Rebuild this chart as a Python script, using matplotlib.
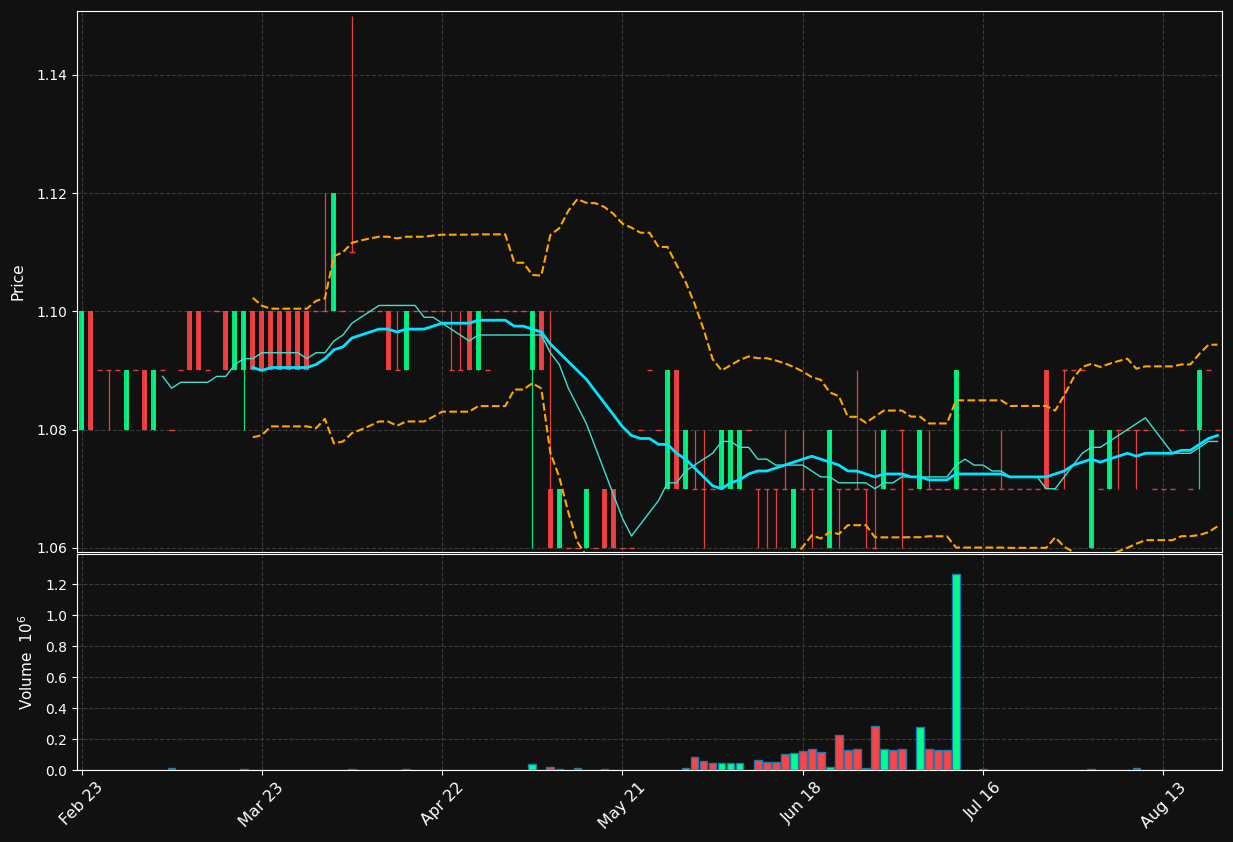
import numpy as np
import pandas as pd
import matplotlib
matplotlib.use('Agg')
import matplotlib.pyplot as plt

# daily OHLC (quotes are rounded to 0.01)
opens = [1.08, 1.10, 1.09, 1.09, 1.09, 1.08, 1.09, 1.09, 1.08, 1.09,
         1.08, 1.09, 1.10, 1.10, 1.09, 1.10, 1.10, 1.09, 1.09, 1.10,
         1.10, 1.10, 1.10, 1.10, 1.10, 1.10, 1.10, 1.10, 1.10, 1.10,
         1.11, 1.10, 1.10, 1.10, 1.10, 1.09, 1.09, 1.10, 1.10, 1.10,
         1.10, 1.09, 1.09, 1.10, 1.09, 1.09, 1.10, 1.10, 1.10, 1.10,
         1.09, 1.10, 1.07, 1.06, 1.06, 1.06, 1.06, 1.06, 1.07, 1.07,
         1.06, 1.06, 1.08, 1.09, 1.08, 1.07, 1.09, 1.07, 1.07, 1.07,
         1.07, 1.07, 1.07, 1.07, 1.08, 1.07, 1.07, 1.07, 1.07, 1.06,
         1.07, 1.07, 1.07, 1.06, 1.07, 1.07, 1.07, 1.07, 1.06, 1.07,
         1.07, 1.08, 1.07, 1.07, 1.07, 1.07, 1.07, 1.07, 1.07, 1.07,
         1.07, 1.07, 1.07, 1.07, 1.07, 1.07, 1.07, 1.09, 1.07, 1.09,
         1.09, 1.09, 1.06, 1.07, 1.07, 1.08, 1.08, 1.08, 1.08, 1.07,
         1.07, 1.07, 1.08, 1.07, 1.08, 1.09, 1.08]
highs = [1.10, 1.10, 1.09, 1.09, 1.09, 1.09, 1.09, 1.09, 1.09, 1.09,
         1.08, 1.09, 1.10, 1.10, 1.09, 1.10, 1.10, 1.10, 1.10, 1.10,
         1.10, 1.10, 1.10, 1.10, 1.10, 1.10, 1.10, 1.12, 1.12, 1.10,
         1.15, 1.10, 1.10, 1.10, 1.10, 1.10, 1.10, 1.10, 1.10, 1.10,
         1.10, 1.10, 1.10, 1.10, 1.10, 1.09, 1.10, 1.10, 1.10, 1.10,
         1.10, 1.10, 1.10, 1.07, 1.06, 1.06, 1.07, 1.06, 1.07, 1.07,
         1.06, 1.06, 1.08, 1.09, 1.08, 1.09, 1.09, 1.08, 1.08, 1.08,
         1.07, 1.08, 1.08, 1.08, 1.08, 1.07, 1.07, 1.07, 1.08, 1.07,
         1.08, 1.07, 1.07, 1.08, 1.07, 1.07, 1.09, 1.07, 1.08, 1.08,
         1.07, 1.08, 1.07, 1.08, 1.08, 1.07, 1.07, 1.09, 1.07, 1.07,
         1.07, 1.07, 1.08, 1.07, 1.07, 1.07, 1.07, 1.09, 1.07, 1.09,
         1.09, 1.09, 1.08, 1.07, 1.08, 1.08, 1.08, 1.08, 1.08, 1.07,
         1.07, 1.07, 1.08, 1.07, 1.09, 1.09, 1.08]
lows = [1.08, 1.08, 1.09, 1.08, 1.09, 1.08, 1.09, 1.08, 1.08, 1.09,
        1.08, 1.09, 1.09, 1.09, 1.09, 1.10, 1.09, 1.09, 1.08, 1.09,
        1.09, 1.09, 1.09, 1.09, 1.09, 1.09, 1.10, 1.10, 1.10, 1.10,
        1.11, 1.10, 1.10, 1.10, 1.09, 1.09, 1.09, 1.10, 1.10, 1.10,
        1.10, 1.09, 1.09, 1.09, 1.09, 1.09, 1.10, 1.10, 1.10, 1.10,
        1.06, 1.09, 1.06, 1.06, 1.06, 1.06, 1.06, 1.06, 1.06, 1.06,
        1.06, 1.06, 1.08, 1.09, 1.08, 1.07, 1.07, 1.07, 1.07, 1.06,
        1.07, 1.07, 1.07, 1.07, 1.08, 1.06, 1.06, 1.06, 1.07, 1.06,
        1.07, 1.06, 1.07, 1.06, 1.06, 1.07, 1.07, 1.06, 1.06, 1.07,
        1.07, 1.06, 1.07, 1.07, 1.07, 1.07, 1.07, 1.07, 1.07, 1.07,
        1.07, 1.07, 1.07, 1.07, 1.07, 1.07, 1.07, 1.07, 1.07, 1.07,
        1.09, 1.09, 1.06, 1.07, 1.07, 1.07, 1.08, 1.07, 1.08, 1.07,
        1.07, 1.07, 1.08, 1.07, 1.07, 1.09, 1.08]
closes = [1.10, 1.08, 1.09, 1.09, 1.09, 1.09, 1.09, 1.08, 1.09, 1.09,
          1.08, 1.09, 1.09, 1.09, 1.09, 1.10, 1.09, 1.10, 1.10, 1.09,
          1.09, 1.09, 1.09, 1.09, 1.09, 1.09, 1.10, 1.10, 1.12, 1.10,
          1.11, 1.10, 1.10, 1.10, 1.09, 1.09, 1.10, 1.10, 1.10, 1.10,
          1.10, 1.09, 1.09, 1.09, 1.10, 1.09, 1.10, 1.10, 1.10, 1.10,
          1.10, 1.09, 1.06, 1.07, 1.06, 1.06, 1.07, 1.06, 1.06, 1.06,
          1.06, 1.06, 1.08, 1.09, 1.08, 1.09, 1.07, 1.08, 1.07, 1.07,
          1.07, 1.08, 1.08, 1.08, 1.08, 1.07, 1.07, 1.07, 1.07, 1.07,
          1.07, 1.07, 1.07, 1.08, 1.07, 1.07, 1.07, 1.07, 1.06, 1.08,
          1.07, 1.08, 1.07, 1.08, 1.07, 1.07, 1.07, 1.09, 1.07, 1.07,
          1.07, 1.07, 1.07, 1.07, 1.07, 1.07, 1.07, 1.07, 1.07, 1.09,
          1.09, 1.09, 1.08, 1.07, 1.08, 1.08, 1.08, 1.08, 1.08, 1.07,
          1.07, 1.07, 1.08, 1.07, 1.09, 1.09, 1.08]
volumes = [0, 0, 0, 0, 0, 0, 0, 0, 0, 0,
           13000, 0, 0, 0, 0, 0, 0, 0, 6000, 0,
           0, 0, 0, 0, 0, 0, 0, 0, 0, 0,
           6000, 0, 0, 0, 0, 0, 6000, 0, 0, 0,
           0, 0, 0, 0, 0, 0, 0, 0, 0, 0,
           37000, 0, 17000, 6000, 0, 10000, 0, 0, 6000, 0,
           0, 0, 0, 0, 0, 0, 0, 10000, 84000, 58000,
           43000, 43000, 43000, 43000, 0, 62000, 49000, 49000, 101000, 108000,
           120000, 133000, 114000, 22000, 224000, 127000, 133000, 15000, 282000, 133000,
           127000, 133000, 0, 275000, 133000, 127000, 127000, 1269000, 0, 0,
           6000, 0, 0, 0, 0, 0, 0, 0, 0, 0,
           0, 0, 6000, 0, 0, 0, 0, 13000, 0, 0,
           0, 0, 0, 0, 0, 0, 0]

tick_pos = [0, 20, 40, 60, 80, 100, 120]
tick_labels = ['Feb 23', 'Mar 23', 'Apr 22', 'May 21', 'Jun 18', 'Jul 16', 'Aug 13']

BG = '#111111'
UP = '#00ff88'
DOWN = '#ff4444'

df = pd.DataFrame({'Open': opens, 'High': highs, 'Low': lows,
                   'Close': closes, 'Volume': volumes})
x = np.arange(len(df))

# indicators on the close
ma10 = df['Close'].rolling(10).mean()
ma20 = df['Close'].rolling(20).mean()
sd20 = df['Close'].rolling(20).std(ddof=0)
upper = ma20 + 2 * sd20
lower = ma20 - 2 * sd20

plt.rcParams['font.size'] = 10

fig = plt.figure(figsize=(12.33, 8.42), dpi=100, facecolor=BG)
ax = fig.add_axes([77 / 1233, 1 - 552 / 842, 1145 / 1233, 541 / 842])
axv = fig.add_axes([77 / 1233, 1 - 770 / 842, 1145 / 1233, 216 / 842], sharex=ax)

for a in (ax, axv):
    a.set_facecolor(BG)
    for s in a.spines.values():
        s.set_color('white')
    a.tick_params(colors='white', labelsize=10)
    a.grid(True, color='#3a3a3a', linestyle='--', linewidth=0.8)
    a.set_axisbelow(True)

up = df['Close'] > df['Open']
cols = np.where(up, UP, DOWN)

# wicks
ax.vlines(x, df['Low'], df['High'], colors=cols, linewidth=0.9, alpha=0.9, zorder=2)
# bodies
body_h = (df['Close'] - df['Open']).abs()
body_b = df[['Open', 'Close']].min(axis=1)
ax.bar(x, body_h, bottom=body_b, width=0.55, color=cols, alpha=0.9,
       linewidth=0, zorder=3)
# dojis
doji = body_h < 1e-9
ax.hlines(df['Open'][doji], x[doji] - 0.28, x[doji] + 0.28, colors=DOWN,
          linewidth=1.0, alpha=0.9, zorder=3)

ax.plot(x, ma10, color='#40e0d0', linewidth=1.0, zorder=4)
ax.plot(x, ma20, color='#00e5ff', linewidth=2.0, zorder=5)
ax.plot(x, upper, color='orange', linestyle='--', linewidth=1.5, zorder=4)
ax.plot(x, lower, color='orange', linestyle='--', linewidth=1.5, zorder=4)

ax.set_ylim(1.0593, 1.1508)
ax.set_yticks([1.06, 1.08, 1.10, 1.12, 1.14])
ax.set_yticklabels(['%.2f' % v for v in [1.06, 1.08, 1.10, 1.12, 1.14]])
ax.set_ylabel('Price', color='white', fontsize=11, labelpad=8)
ax.set_xlim(-0.5, len(df) - 0.5)
ax.tick_params(axis='x', labelbottom=False, length=0)

vol = df['Volume'] / 1e6
axv.bar(x, vol, width=0.85, color=cols, edgecolor='#1f77b4', linewidth=1.0, zorder=3)
axv.set_ylim(0, vol.max() * 1.1)
axv.set_yticks([0, 0.2, 0.4, 0.6, 0.8, 1.0, 1.2])
axv.set_yticklabels(['%.1f' % v for v in [0, 0.2, 0.4, 0.6, 0.8, 1.0, 1.2]])
axv.set_ylabel('Volume  $10^6$', color='white', fontsize=11, labelpad=7)
axv.set_xticks(tick_pos)
axv.set_xticklabels(tick_labels, rotation=45, ha='center', fontsize=11.5)

fig.savefig('out.png', dpi=100, facecolor=BG)
